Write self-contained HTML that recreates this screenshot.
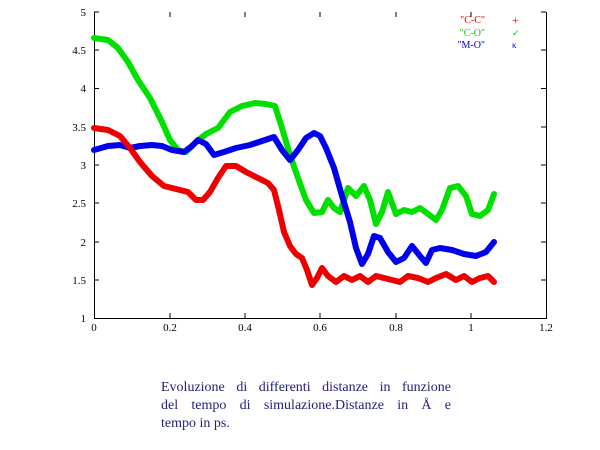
<!DOCTYPE html>
<html><head><meta charset="utf-8"><style>
body{margin:0;width:600px;height:450px;background:#fff;overflow:hidden}
.cap{position:absolute;left:161px;top:379px;width:290px;font:14px/18px "Liberation Serif",serif;color:#22227a}
.cap div{text-align:justify;text-align-last:justify}
.cap div.l{text-align-last:left}
</style></head><body>
<svg width="600" height="450" style="position:absolute;left:0;top:0" font-family="Liberation Serif, serif" font-size="11">
<g stroke="#000" stroke-width="1" fill="none">
<path d="M94.5 12V318.5H546.5V12"/>
<path d="M94 12h5M94 50h5M94 88.5h5M94 127h5M94 165h5M94 203h5M94 242h5M94 280h5M541 12h5M541 50h5M541 88.5h5M541 127h5M541 165h5M541 203h5M541 242h5M541 280h5"/>
<path d="M170 318v-5M245 318v-5M320 318v-5M396 318v-5M471 318v-5M170 12v5M245 12v5M320 12v5M396 12v5M471 12v5"/>
</g>
<g text-anchor="end">
<text x="86" y="16">5</text><text x="86" y="54">4.5</text><text x="86" y="92">4</text><text x="86" y="131">3.5</text><text x="86" y="169">3</text><text x="86" y="207">2.5</text><text x="86" y="246">2</text><text x="86" y="284">1.5</text><text x="86" y="322">1</text>
</g>
<g text-anchor="middle">
<text x="94" y="331">0</text><text x="170" y="331">0.2</text><text x="245" y="331">0.4</text><text x="320" y="331">0.6</text><text x="396" y="331">0.8</text><text x="471" y="331">1</text><text x="546" y="331">1.2</text>
</g>
<g font-size="10" text-anchor="end">
<text x="485" y="23" fill="#d00">"C-C"</text>
<text x="485" y="36" fill="#0c0">"C-O"</text>
<text x="485" y="48" fill="#00c">"M-O"</text>
</g>
<text x="512" y="24" fill="#e00" font-size="12">+</text>
<text x="512" y="36" fill="#0c0" font-size="9">✓</text>
<text x="512" y="48" fill="#00c" font-size="9">κ</text>
<g fill="none" stroke-width="6" stroke-linejoin="round" stroke-linecap="round">
<polyline stroke="#00e000" points="94,38 108,40 118,48 128,62 138,80 150,98 162,122 170,140 178,150 186,152 196,142 206,134 218,128 230,112 242,106 255,103 266,104 275,106 282,128 290,155 298,178 306,200 314,213 322,212 328,200 334,208 340,212 348,188 356,196 364,186 370,200 376,224 382,212 388,192 396,214 404,210 412,212 420,208 428,214 436,220 442,210 450,188 458,186 466,196 472,214 480,216 488,210 494,194"/>
<polyline stroke="#0000ee" points="94,150 108,146 120,145 130,148 140,146 152,145 162,146 172,150 184,152 192,146 198,140 206,144 214,155 224,152 236,148 250,145 262,141 274,137 282,150 290,160 298,150 306,138 314,133 320,136 326,148 334,168 342,196 350,222 356,248 362,264 368,254 374,236 380,238 388,252 396,262 404,258 412,246 420,256 426,263 432,250 440,248 452,250 464,254 476,256 486,252 494,242"/>
<polyline stroke="#ee0000" points="94,128 108,130 120,136 130,148 140,162 152,176 164,186 176,189 188,192 196,200 203,200 210,192 218,178 226,166 236,166 246,172 258,178 268,183 274,190 279,210 284,232 290,246 296,254 302,258 307,270 312,285 317,278 322,268 328,276 336,282 344,276 352,280 360,276 368,282 376,276 384,278 392,280 400,282 408,276 418,278 428,282 436,278 446,274 456,280 464,276 472,282 480,278 488,276 494,282"/>
</g>
</svg>
<div class="cap"><div>Evoluzione di differenti distanze in funzione</div><div>del tempo di simulazione.Distanze in Å e</div><div class="l">tempo in ps.</div></div>
</body></html>
